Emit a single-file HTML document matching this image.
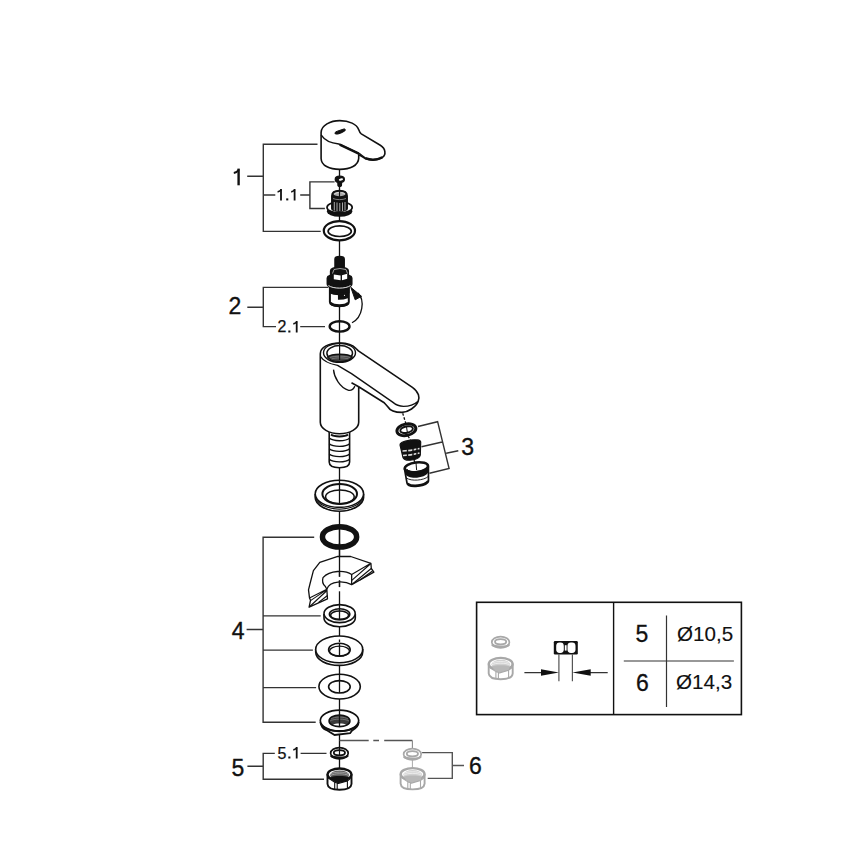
<!DOCTYPE html>
<html><head><meta charset="utf-8">
<style>
html,body{margin:0;padding:0;background:#fff;width:868px;height:868px;overflow:hidden}
svg{display:block}
text{font-family:"Liberation Sans",sans-serif;fill:#111}
</style></head>
<body>
<svg width="868" height="868" viewBox="0 0 868 868">
<rect width="868" height="868" fill="#fff"/>
<!-- brackets -->
<g fill="none" stroke="#333" stroke-width="1.4">
  <path d="M317.5,144.2H263.3V231.4H320.7M247.2,176.3H263.3M263.3,195H275.3M300.2,195H309.9M334.6,181.9H309.9V208.5H324.9"/>
  <path d="M328.4,287.4H263.3V326.6H276M300.2,326.6H325M247.3,307.3H263.3"/>
  <path d="M418,426.5L437.6,421.7L449.1,468.5L429.5,473.2M421.5,446.7L442.2,442M446.2,453.2L458.3,450.7"/>
  <path d="M314.2,537.2H263.1V722.2H315.7M263.1,615.9H320.7M263.1,650.1H312.9M263.1,687.6H316.1M246.6,629.5H263.1"/>
  <path d="M274.8,753.4H263.2V779.2H324M247.4,766.3H263.2M300.6,753.4H326.5"/>
  <path d="M422.1,752.6H452.3V778.4H427.7M452.3,765.5H464" stroke="#555"/>
</g>
<g fill="none" stroke="#111" stroke-linecap="butt">
  <path d="M238.6,168.6V185.3" stroke-width="2.4"/>
  <path d="M239,169.5 C237.5,171.8 235.8,172.6 233.8,172.9" stroke-width="2"/>
  <path d="M281,188.9V200.4M294.6,188.9V200.4" stroke-width="1.8"/>
  <path d="M281.2,189.8 C280,191.2 279,191.7 277.6,191.9M294.8,189.8 C293.6,191.2 292.6,191.7 291.2,191.9" stroke-width="1.6"/>
  <path d="M296.7,320.9V332.4M296.7,746.9V758.4" stroke-width="1.8"/>
  <path d="M296.9,321.8 C295.7,323.2 294.7,323.7 293.3,323.9M296.9,747.8 C295.7,749.2 294.7,749.7 293.3,749.9" stroke-width="1.6"/>
</g>
<g fill="#111">
  <rect x="286.2" y="198.4" width="2.1" height="2"/>
  <rect x="288.3" y="330.5" width="2.1" height="2"/>
  <rect x="288.3" y="756.5" width="2.1" height="2"/>
</g>
<g font-size="23" stroke="#111" stroke-width="0.35">
  <text x="228.5" y="313.7">2</text>
  <text x="461.2" y="455.1">3</text>
  <text x="231.8" y="638.9">4</text>
  <text x="231.5" y="775.5">5</text>
  <text x="469" y="773.5">6</text>
</g>
<g font-size="16" stroke="#111" stroke-width="0.25">
  <text x="277.6" y="332.4">2</text>
  <text x="277.6" y="758.6">5</text>
</g>
<!-- centre line (under parts) -->
<g stroke="#111" stroke-width="1.3" fill="none">
  <path d="M339.5,169V256M339.5,307V343M339.5,433V768"/>
  <path d="M339.5,740.5H368.7M373.3,740.5H379M384.2,740.5H412.4" stroke="#555" stroke-width="1.3"/>
  <path d="M412.4,740.5V749" stroke="#888" stroke-width="1.1"/>
  <path d="M402.7,413.2L406,424M408,436L410.5,440M414,460L416,466" stroke-dasharray="2.5,1.8"/>
</g>

<!-- ===== handle 1 ===== -->
<g stroke="#111" stroke-width="1.6" fill="#fff" stroke-linejoin="round" transform="translate(0.3,0.4)">
  <path d="M320.8,132 C321,125 330,120.2 339.5,120.2 C349,120.2 356.5,124 358.3,129 C359,131 359.5,132.5 361,133.5 L380,144.8 C385.5,148 386,154.5 382,157 C378,160 368,160.5 363,157 L358.4,154.2 V158 C358,165 350,169 339.5,169 C329,169 321,165 320.8,158 Z"/>
  <path d="M320.8,134.5 C324,139.5 330,142.8 338.5,143.6 L359.5,153.5 C361,154.5 363,156.5 365,157.5" fill="none" stroke-width="1.4"/>
  <path d="M339.5,144.2 L358.5,153.3" fill="none" stroke-width="2.6"/>
  <path d="M365,157.8 C370,159.8 377,159.5 382,157" fill="none" stroke-width="2.4"/>
  <path d="M335,133.5 C334,132.5 335,131.5 337,130.8 L343.5,128.6 C345,128.2 345.5,129.5 344.5,130.5 L342,132 C340,133 337,134.2 335,133.5Z" fill="#111" stroke-width="1"/>
</g>

<!-- ===== screw + adapter 1.1 ===== -->
<g stroke="#111" stroke-width="1.5">
  <path d="M335.2,179.2 C335.2,176.8 337,176.2 339.8,176.2 C342.5,176.2 344.4,176.8 344.4,179.2 C344.4,181 342.8,182.2 341.6,182.4 L341.4,185.8 C341,186.8 338.4,186.8 338,185.8 L337.8,182.4 C336.4,182 335.2,181 335.2,179.2Z" fill="#111" stroke-width="1.2"/>
  <ellipse cx="340.9" cy="179.5" rx="2.2" ry="1.1" fill="#fff" stroke="none" transform="rotate(-15 340.9 179.5)"/>
  <!-- flange -->
  <ellipse cx="339.6" cy="211.2" rx="12.7" ry="5.6" fill="#111" stroke="none"/>
  <ellipse cx="339.6" cy="207.4" rx="12.6" ry="5.5" fill="#fff" stroke-width="1.7"/>
  <!-- splined body -->
  <path d="M331.8,196 C331.8,191.5 335,190.6 339.5,190.6 C344,190.6 347.2,191.5 347.2,196 V208.5 C347.2,212 331.8,212 331.8,208.5Z" fill="#111"/>
  <path d="M334.3,202V210.5M337,202.5V211M339.8,203V211.2M342.5,202.5V211M345,202V210.5" stroke="#bbb" stroke-width="0.9"/>
  <path d="M333,198.5 C336,200 343,200 346,198.5" fill="none" stroke="#999" stroke-width="0.8"/>
  <ellipse cx="339.5" cy="194" rx="6" ry="2.2" fill="#aaa" stroke="none"/>
  <path d="M334.5,194 C336,192.8 338,192.5 339.5,192.5 M341.5,192.6 C343,192.8 344,193.3 344.8,194" stroke="#eee" stroke-width="0.8" fill="none"/>
  <path d="M339.5,190.5V199" stroke="#111" stroke-width="1.1"/>
  <!-- ring -->
  <ellipse cx="339.4" cy="230.7" rx="15.6" ry="9.6" fill="#fff" stroke-width="2.2"/>
  <ellipse cx="339.7" cy="231.2" rx="11.6" ry="5.3" fill="none" stroke-width="1.7"/>
</g>

<!-- ===== cartridge 2 ===== -->
<g stroke="#111" stroke-width="1.5">
  <path d="M335,259 C335,255.8 344.2,255.8 344.2,259 V267 H335Z" fill="#111"/>
  <!-- lower body -->
  <path d="M329.9,288 V302 C329.9,307.5 348.8,307.5 348.8,302 V288Z" fill="#fff" stroke-width="2"/>
  <path d="M329.9,288 V292.5 C334,295 345,295 348.8,292.5 V288Z" fill="#111"/>
  <path d="M338.7,293.5 H347.6 V297.5 C345,298.5 341,299 338.7,299Z" fill="#111"/>
  <circle cx="344.5" cy="295.3" r="0.6" fill="#fff" stroke="none"/>
  <path d="M330.5,303 C334,306.5 345,306.5 348.2,303" fill="none" stroke-width="2.6"/>
  <!-- big ring -->
  <path d="M327.3,278 C327.3,273 351.8,273 351.8,278 V284 C351.8,290 327.3,290 327.3,284Z" fill="#111"/>
  <path d="M328.5,285.5 C333,289 346,289 350.5,285.5" fill="none" stroke="#fff" stroke-width="0.9"/>
  <!-- hex nut -->
  <path d="M330.6,271 C330.6,266 348.3,266 348.3,271 V275 C348.3,281 330.6,281 330.6,275Z" fill="#111"/>
  <path d="M333.8,274.5 L340.6,275.5 V280.3 L333.8,279.3Z M342,275.3 L347.2,273.8 V278.8 L342,280.2Z" fill="#fff" stroke="none"/>
  <path d="M332.5,273.5 L334,269.5 L340,268.5 L346,269.5 L347.5,273.5" fill="none" stroke="#ddd" stroke-width="0.7"/>
  <!-- arrow -->
  <path d="M352,322.8 C363,317 365,300 358,293" fill="none" stroke-width="1.3"/>
  <path d="M350.8,287.3 L361.5,296.3 L355.2,299.8Z" fill="#111" stroke-width="1"/>
  <!-- o-ring 2.1 -->
  <ellipse cx="339.6" cy="326.4" rx="9.9" ry="5.2" fill="none" stroke-width="2.4"/>
</g>

<!-- ===== spout body ===== -->
<g stroke="#111" stroke-width="1.6" fill="#fff" stroke-linejoin="round">
  <path d="M329.2,430 V462 C329.2,466 334,467.7 339.4,467.7 C345,467.7 349.6,466 349.6,462 V430Z"/>
  <path d="M331,434.5 C334,437 345,437 348,434.5" fill="none" stroke-width="2"/>
  <path d="M329.2,438.1 C333,441.6 346,441.6 349.6,438.1 M329.2,443.7 C333,447.2 346,447.2 349.6,443.7 M329.2,448.8 C333,452.3 346,452.3 349.6,448.8 M329.2,454 C333,457.5 346,457.5 349.6,454 M329.2,459.2 C333,462.7 346,462.7 349.6,459.2" fill="none" stroke-width="1.3"/>
  <path d="M320.3,353.7 C320.3,347 329,343 339.7,343 C347,343 353,345 356,348.5 L358.4,350.9 L412.4,387.4 C419,392 420,398 418.1,401.5 C416,407 408,412.4 401.9,412.4 C395,412.4 390,410.5 388,407 L384.2,402.7 L358.7,386.8 V422.3 A19.2,11.5 0 0 1 320.3,422.3 Z"/>
  <path d="M320.5,356.5 C323,360.5 330,364 337.6,365.4 L351.5,373.7 L392.3,401.9 C396,405 400,406.4 403.5,406.4 C410,406.4 415,404 417.8,401.5" fill="none" stroke-width="1.4"/>
  <path d="M333.5,369.6 C334,377 340,388 348.7,390.3 C352,390.8 354,388 354.9,386.1" fill="none" stroke-width="1.3"/>
  <path d="M351.5,382.7 L358.7,386.8" fill="none"/>
  <ellipse cx="339.5" cy="352.8" rx="16" ry="9.6" fill="none" stroke-width="1.4"/>
  <ellipse cx="339.7" cy="353.2" rx="12.8" ry="7.6" fill="none" stroke-width="1.5"/>
  <path d="M327.5,357 C330,354.8 334.5,354.2 339.8,354.2 C345,354.2 350,354.8 352.3,357 C350,360.2 345,361.6 339.8,361.6 C334,361.6 329.5,360.2 327.5,357Z" fill="#444" stroke-width="1.4"/>
  <path d="M330,357.5 C334,355.8 346,355.8 350,357.5 M331.5,359 C335,357.5 345,357.5 348.5,359" fill="none" stroke="#999" stroke-width="0.6"/>
  <path d="M339.6,343V360" fill="none" stroke-width="1.2"/>
</g>

<!-- ===== aerator 3 ===== -->
<g stroke="#111" stroke-width="1.6">
  <ellipse cx="406.4" cy="429.7" rx="9.6" ry="5.7" fill="#fff" transform="rotate(-12 406.4 429.7)" stroke-width="3"/>
  <ellipse cx="406.6" cy="429.6" rx="6.4" ry="3.2" fill="none" transform="rotate(-12 406.6 429.6)" stroke-width="1.9"/>
  <path d="M406.5,426.8 L407.3,432" stroke-width="1"/>
  <path d="M400,445 C399.5,440.5 420.5,437.5 420.7,442 L420.3,455 C419.5,460.5 404.5,462 403,457.5Z" fill="#111" stroke-width="1.2"/>
  <path d="M402.5,451 C408,451 414,450 419.5,448.5 M403,455.5 C408,455.5 414,454.5 419.5,453" stroke="#ddd" stroke-width="1.4" fill="none"/>
  <path d="M407.5,449 V459 M413,448.5 V458.5 M417,448 V457" stroke="#111" stroke-width="1.4"/>
  <path d="M404.5,469 C404,464 428,461 428.4,467 L428.5,481 C427.5,486.5 408,488.5 407,483Z" fill="#fff" stroke-width="1.7"/>
  <path d="M404.8,468 C405.5,475 427.5,473.5 428.4,466 L428.4,471.5 C427,478.5 407.5,480 405.6,474Z" fill="#111" stroke="none"/>
  <ellipse cx="416.4" cy="467.3" rx="11.7" ry="4.9" fill="#fff" transform="rotate(-7 416.4 467.3)" stroke-width="2.6"/>
  <path d="M407,469.5 C410,472.8 423,472.3 426.8,467.5 C426,470.5 423,472 416.5,472.5 C411,472.8 408,471.5 407,469.5Z" fill="#111" stroke-width="1"/>
  <path d="M416,462.8 L416.6,470" stroke-width="1"/>
  <path d="M406.5,478 C411,481.5 424,480.5 428.2,476.5" fill="none" stroke-width="0.9"/>
  <path d="M407.5,483.5 C412,487 424,486 428.2,481" fill="none" stroke-width="2.2"/>
</g>

<!-- ===== flange ring ===== -->
<g stroke="#111" stroke-width="1.6" fill="#fff">
  <path d="M315.2,494 V497.5 C315.2,505 327,511.3 339.4,511.3 C351.5,511.3 363.6,505 363.6,497.5 V494"/>
  <path d="M315.5,498 C318,504 328,509.2 339.4,509.2 C351,509.2 361,504 363.3,498" fill="none" stroke-width="1.1"/>
  <ellipse cx="339.4" cy="493.8" rx="24.2" ry="13.6"/>
  <ellipse cx="339.7" cy="494" rx="17.3" ry="10" fill="none" stroke-width="2"/>
  <ellipse cx="339.9" cy="496.8" rx="14.3" ry="6.9" fill="none" stroke-width="1.5"/>
  <path d="M339.5,480V504" stroke-width="1.3"/>
  <!-- o-ring -->
  <ellipse cx="339.55" cy="536.9" rx="17.1" ry="10.15" fill="none" stroke-width="5.5"/>
  <path d="M339.5,527V547" stroke-width="1.3"/>
</g>

<!-- ===== plate ===== -->
<g stroke="#111" stroke-width="1.3" fill="#fff" stroke-linejoin="round">
  <path d="M339.5,543V556.3" fill="none"/>
  <path d="M309.5,597.9 L308.5,589.9 L310.2,583 L313.4,570.7 L319.8,562.4 L337.8,556.3 L350.7,556.5 L370.9,563.3 L371.3,568.5 L373.9,572.1 L351.65,584.6 V574.5 C345,570 330,570 323,577.6 C322,581 323,584.5 325.4,586.5 L326.8,589.2 L327.5,598.9 L309.1,607.2 L310.5,600.3Z"/>
  <path d="M351.65,584.6 C345,581 330,580 326.8,589.2" fill="none"/>
  <path d="M351.65,574.5 L370.9,563.3 M351.8,580.4 L370.9,563.5 M352.5,584 L371.2,568.5 M360,580 L372.5,571" fill="none" stroke-width="1.1"/>
  <path d="M309.5,597.9 L326.8,589.2 M310.5,600.6 L326.8,589.6 M309.8,606.5 L327,590.5 M318.5,602.5 L327.5,595.5" fill="none" stroke-width="1.1"/>
  <path d="M339.5,556.3V576.7M339.5,580.4V586.9" fill="none" stroke-width="1.3"/>
  <rect x="337.5" y="576.9" width="4" height="3.3" fill="#fff" stroke="none"/>
  <rect x="337.5" y="587.1" width="4" height="4.2" fill="#fff" stroke="none"/>
</g>

<!-- ===== washers 4 ===== -->
<g stroke="#111" stroke-width="1.6" fill="#fff">
  <path d="M324,614 V618 C324,623 331,626.7 339.6,626.7 C348,626.7 355.3,623 355.3,618 V614"/>
  <ellipse cx="339.6" cy="613.6" rx="15.6" ry="9"/>
  <ellipse cx="339.6" cy="614.3" rx="10.2" ry="5.5" fill="none"/>
  <ellipse cx="339.6" cy="615.2" rx="9" ry="4.2" fill="none"/>
  <path d="M339.5,604.6V619.5" stroke-width="1.3"/>
  <path d="M315.7,649 V652 C315.7,660 327,665.4 339.2,665.4 C351,665.4 362.7,660 362.7,652 V649"/>
  <ellipse cx="339.2" cy="649.4" rx="23.5" ry="13.4"/>
  <ellipse cx="339.4" cy="649.7" rx="10.8" ry="6.4" fill="none"/>
  <ellipse cx="339.5" cy="651.2" rx="10" ry="5" fill="none" stroke-width="1.3"/>
  <path d="M339.5,643.3V656M339.5,639.5V642" stroke-width="1.3"/>
  <ellipse cx="339.6" cy="686.6" rx="20.7" ry="12.4"/>
  <ellipse cx="339.4" cy="686.8" rx="10.8" ry="6.2" fill="none"/>
  <path d="M339.5,674V693" stroke-width="1.3"/>
  <!-- nut D -->
  <path d="M320.4,722 C321,726 323.5,729 326.5,730.1 L334.6,735 L350.1,733.2 L351.9,730.7 C355,729 358.5,726 358.7,722" stroke-width="1.8"/>
  <ellipse cx="339.5" cy="720.6" rx="19.2" ry="10.5" stroke-width="1.7"/>
  <path d="M322,726 C327,730 333,731.2 339.5,731.2 C346,731.2 352,730 357,726" fill="none" stroke-width="2.2"/>
  <ellipse cx="339.5" cy="720.9" rx="10.4" ry="5.9" fill="#3a3a3a" stroke-width="1.6"/>
  <path d="M331,719 C334,716.5 345,716.5 348,719 M330,721 C334,718.5 345,718.5 349,721" fill="none" stroke="#888" stroke-width="0.7"/>
  <path d="M333,724.5 C335,723 344,723 346,724.5 C344,726 335,726 333,724.5Z" fill="#fff" stroke="none"/>
  <path d="M339.5,709.9V726.5" stroke-width="1.3"/>
</g>

<!-- ===== 5 ===== -->
<g stroke="#111" fill="#fff" class="nut">
  <path d="M327.5,775.0 V784.0 C327.8,788.3 333.0,789.8 339.5,789.8 C346.0,789.8 351.2,788.3 351.5,784.0 V775.0Z" stroke-width="1.9"/>
  <ellipse cx="339.5" cy="774.5" rx="11.9" ry="6" stroke-width="2.3"/>
  <ellipse cx="339.6" cy="775.2" rx="9.4" ry="4.8" fill="#5a5a5a" stroke="none"/>
  <path d="M331.0,773.8 C334.0,771.6 345.0,771.6 348.0,773.8 M330.6,775.5 C334.0,773.2 345.0,773.2 348.6,775.5" fill="none" stroke="#ccc" stroke-width="0.6"/>
  <path d="M330.5,777.0 C333.0,775.5 346.0,775.5 348.6,777.0 L347.4,780.9 L338.5,783.3 L334.7,782.2Z" fill="#111" stroke="none"/>
  <path d="M328.0,777.8 L334.7,782.2 L338.5,783.5 L347.4,780.9 L350.6,778.4 M334.7,782.2 V789.2 M337.2,783.1 V789.6 M347.4,780.9 V788.6" fill="none" stroke-width="1.1"/>
</g>
<g stroke="#111" fill="#fff">
  <ellipse cx="339.4" cy="753.2" rx="8.8" ry="5.6" stroke-width="1.7"/>
  <path d="M331,755.5 C333,758.5 346,758.5 347.8,755.5" fill="none" stroke-width="2.4"/>
  <ellipse cx="339.4" cy="752.8" rx="5.6" ry="2.6" fill="none" stroke-width="1.8"/>
</g>
<path d="M339.5,746.8V756" stroke="#111" stroke-width="1.2"/>

<!-- ===== 6 gray ===== -->
<path d="M412.4,759V768" stroke="#aaa" stroke-width="1"/>
<g stroke="#a8a8a8" fill="#fff" class="nut">
  <path d="M400.6,774.6 V783.6 C400.9,787.9 406.1,789.4 412.6,789.4 C419.1,789.4 424.3,787.9 424.6,783.6 V774.6Z" stroke-width="1.9"/>
  <ellipse cx="412.6" cy="774.1" rx="11.9" ry="6" stroke-width="2.3"/>
  <ellipse cx="412.7" cy="774.8" rx="9.4" ry="4.8" fill="#d0d0d0" stroke="none"/>
  <path d="M404.1,773.4 C407.1,771.2 418.1,771.2 421.1,773.4 M403.7,775.1 C407.1,772.8 418.1,772.8 421.7,775.1" fill="none" stroke="#fff" stroke-width="0.6"/>
  <path d="M403.6,776.6 C406.1,775.1 419.1,775.1 421.7,776.6 L420.5,780.5 L411.6,782.9 L407.8,781.8Z" fill="#b8b8b8" stroke="none"/>
  <path d="M401.1,777.4 L407.8,781.8 L411.6,783.1 L420.5,780.5 L423.7,778.0 M407.8,781.8 V788.8 M410.3,782.7 V789.2 M420.5,780.5 V788.2" fill="none" stroke-width="1.1"/>
</g>
<g stroke="#a8a8a8" fill="#fff">
  <ellipse cx="412.4" cy="754.2" rx="8.8" ry="5.6" stroke-width="1.7"/>
  <path d="M404.0,756.5 C406.0,759.5 419.0,759.5 420.8,756.5" fill="none" stroke-width="2.4"/>
  <ellipse cx="412.4" cy="753.8" rx="5.6" ry="2.6" fill="none" stroke-width="1.8"/>
</g>

<!-- ===== legend box ===== -->
<g fill="none" stroke="#111">
  <rect x="476.6" y="602.3" width="264.8" height="112.3" stroke-width="1.6"/>
  <path d="M613.6,602.3V714.6" stroke-width="1.4"/>
  <path d="M666.5,615.4V707M623.8,661H733.9" stroke-width="1.2" stroke="#333"/>
  <path d="M558.9,654.4V681.2M572.4,654.4V681.2" stroke-width="1.2" stroke="#555"/>
  <path d="M524.4,672.6H542M590,672.6H607.7" stroke-width="1.2" stroke="#333"/>
  <path d="M541,669.2 L558.9,672.6 L541,675.8Z M590.7,669.2 L572.4,672.6 L590.7,675.8Z" fill="#111" stroke="none"/>
  <rect x="553.8" y="641.1" width="24" height="13.3" rx="1.2" fill="#111" stroke="none"/>
  <rect x="556.2" y="642.5" width="7.6" height="10.4" rx="3.4" fill="#fff" stroke="none"/>
  <rect x="567.5" y="642.5" width="8" height="10.4" rx="3.4" fill="#fff" stroke="none"/>
  <rect x="564.8" y="645.2" width="1.8" height="5.4" fill="#fff" stroke="none"/>
</g>
<g stroke="#a8a8a8" fill="#fff">
  <ellipse cx="500.6" cy="642.2" rx="8.8" ry="5.6" stroke-width="1.7"/>
  <path d="M492.2,644.5 C494.2,647.5 507.2,647.5 509.0,644.5" fill="none" stroke-width="2.4"/>
  <ellipse cx="500.6" cy="641.8" rx="5.6" ry="2.6" fill="none" stroke-width="1.8"/>
</g>
<g stroke="#a8a8a8" fill="#fff" class="nut">
  <path d="M488.7,664.4 V673.4 C489.0,677.7 494.2,679.2 500.7,679.2 C507.2,679.2 512.4,677.7 512.7,673.4 V664.4Z" stroke-width="1.9"/>
  <ellipse cx="500.7" cy="663.9" rx="11.9" ry="6" stroke-width="2.3"/>
  <ellipse cx="500.8" cy="664.6" rx="9.4" ry="4.8" fill="#d0d0d0" stroke="none"/>
  <path d="M492.2,663.2 C495.2,661.0 506.2,661.0 509.2,663.2 M491.8,664.9 C495.2,662.6 506.2,662.6 509.8,664.9" fill="none" stroke="#fff" stroke-width="0.6"/>
  <path d="M491.7,666.4 C494.2,664.9 507.2,664.9 509.8,666.4 L508.6,670.3 L499.7,672.7 L495.9,671.6Z" fill="#b8b8b8" stroke="none"/>
  <path d="M489.2,667.2 L495.9,671.6 L499.7,672.9 L508.6,670.3 L511.8,667.8 M495.9,671.6 V678.6 M498.4,672.5 V679.0 M508.6,670.3 V678.0" fill="none" stroke-width="1.1"/>
</g>
<g font-size="23" stroke="#111" stroke-width="0.3">
  <text x="635.5" y="641.7">5</text>
  <text x="636" y="691">6</text>
</g>
<g font-size="20.6" stroke="#111" stroke-width="0.12">
  <text x="677" y="640.6">Ø10,5</text>
  <text x="676" y="688.9">Ø14,3</text>
</g>
</svg>
</body></html>
